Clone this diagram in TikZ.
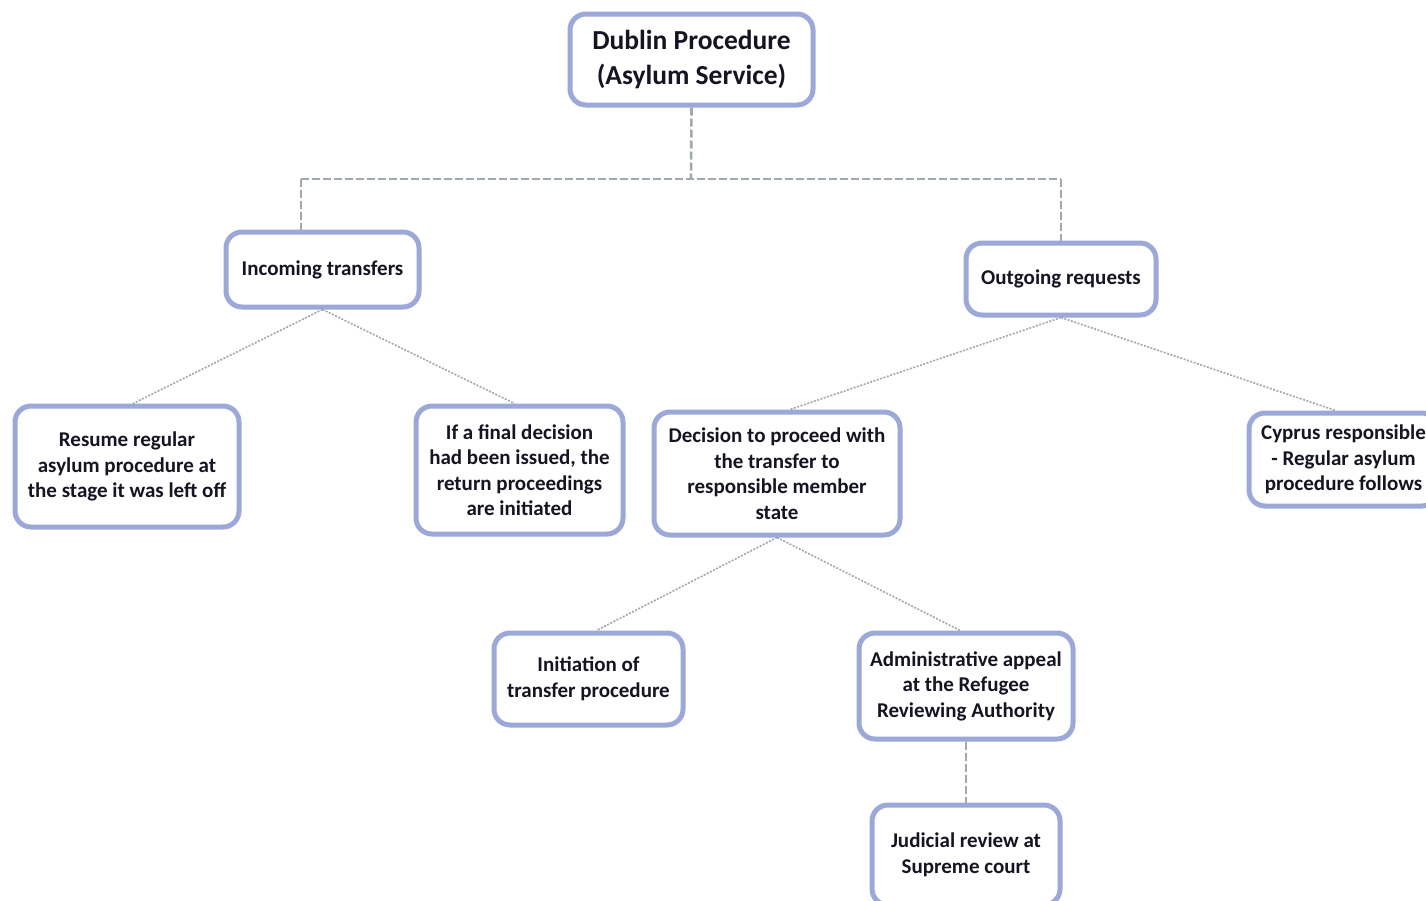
\documentclass[tikz,border=0pt]{standalone}
\usepackage{fontspec}
\setmainfont{Carlito}
\definecolor{boxc}{RGB}{155,168,216}
\definecolor{linec}{RGB}{160,168,176}
\definecolor{txtc}{RGB}{20,20,35}
\tikzset{
  box/.style={draw=boxc, line width=5pt, rounded corners=16pt, fill=white, align=center,
    inner sep=0pt, text=txtc, font=\fontsize{21}{25.5}\selectfont\bfseries},
  tree/.style={draw=linec, line width=2.6pt, dash pattern=on 8pt off 3pt},
  diag/.style={draw=linec, line width=1.6pt, dash pattern=on 2pt off 1.5pt},
}
\begin{document}
\begin{tikzpicture}[x=1pt,y=-1pt]
\useasboundingbox (0,0) rectangle (1426,900);
\fill[white] (0,0) rectangle (1426,900);
\node[box, minimum width=243pt, minimum height=91pt, font=\fontsize{27.5}{35}\selectfont\bfseries] (root) at (691.5,59.5) {Dublin Procedure\\(Asylum Service)};
\node[box, minimum width=193pt, minimum height=75pt] (inc) at (322.5,269.5) {Incoming transfers};
\node[box, minimum width=190pt, minimum height=72pt] (out) at (1061,279) {Outgoing requests};
\node[box, minimum width=224pt, minimum height=121pt] (res) at (127,466.5) {Resume regular\\asylum procedure at\\the stage it was left off};
\node[box, minimum width=207pt, minimum height=128pt] (fin) at (519.5,470) {If a final decision\\had been issued, the\\return proceedings\\are initiated};
\node[box, minimum width=246pt, minimum height=123pt] (dec) at (777,473.5) {Decision to proceed with\\the transfer to\\responsible member\\state};
\node[box, minimum width=189pt, minimum height=93pt] (cyp) at (1343.5,459.5) {Cyprus responsible\\- Regular asylum\\procedure follows};
\node[box, minimum width=189pt, minimum height=92pt] (ini) at (588.5,679) {Initiation of\\transfer procedure};
\node[box, minimum width=214pt, minimum height=106pt] (adm) at (966,686) {Administrative appeal\\at the Refugee\\Reviewing Authority};
\node[box, minimum width=188pt, minimum height=100pt] (jud) at (966,855) {Judicial review at\\Supreme court};
\coordinate (busM) at (691,179);
\coordinate (busL) at (301,179);
\coordinate (busR) at (1061,179);
\draw[tree] (root.south) -- (busM);
\draw[tree] (busL) -- (busR);
\draw[tree] (busL) -- (busL |- inc.north);
\draw[tree] (busR) -- (out.north);
\draw[diag] (inc.south) -- ([xshift=6pt]res.north);
\draw[diag] (inc.south) -- ([xshift=-5pt]fin.north);
\draw[diag] (out.south) -- ([xshift=13pt]dec.north);
\draw[diag] (out.south) -- ([xshift=-8pt]cyp.north);
\draw[diag] (dec.south) -- ([xshift=8pt]ini.north);
\draw[diag] (dec.south) -- ([xshift=-6pt]adm.north);
\draw[tree] (adm.south) -- (jud.north);
\end{tikzpicture}
\end{document}
